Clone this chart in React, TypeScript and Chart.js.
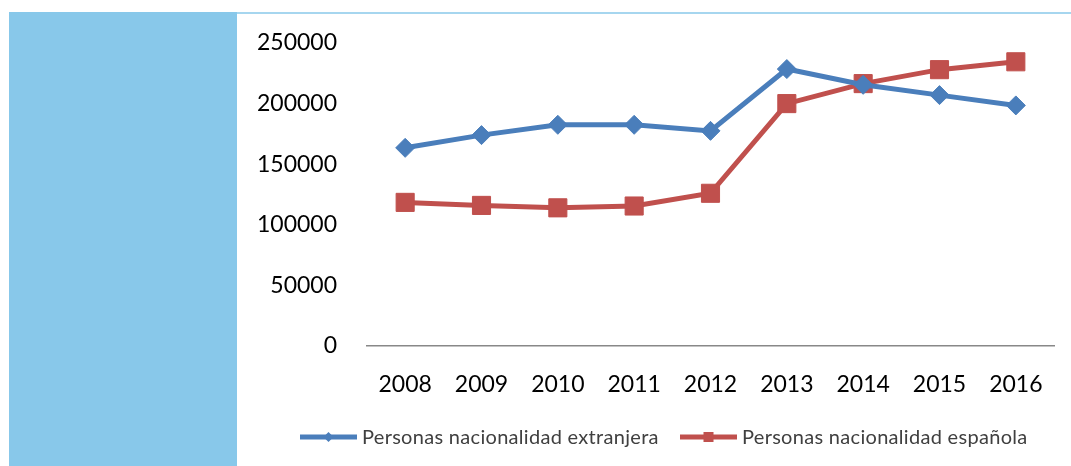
import React, { useEffect, useRef } from 'react';
import { Chart, registerables } from 'chart.js';
Chart.register(...registerables);

const years = ['2008', '2009', '2010', '2011', '2012', '2013', '2014', '2015', '2016'];
const extranjera = [163500, 174000, 182500, 182500, 177500, 228500, 215500, 207000, 198500];
const espanola = [118500, 116000, 114000, 115500, 126000, 200000, 216500, 228000, 234500];
const seriesNames = ['Personas nacionalidad extranjera', 'Personas nacionalidad española'];
const yMax = 250000;
const yStep = 50000;

const BLUE = '#4A7EBB';
const RED = '#C0504D';

const legendPlugin = {
  id: 'customLegend',
  afterDraw(chart: any) {
    const ctx = chart.ctx;
    const y = 424;
    const starts = [63, 443];
    chart.data.datasets.forEach((ds: any, i: number) => {
      const x = starts[i];
      ctx.save();
      ctx.strokeStyle = ds.borderColor;
      ctx.lineWidth = 5;
      ctx.beginPath();
      ctx.moveTo(x, y);
      ctx.lineTo(x + 57, y);
      ctx.stroke();
      ctx.fillStyle = ds.borderColor;
      const cx = x + 28.5;
      if (ds.pointStyle === 'rectRot') {
        ctx.beginPath();
        ctx.moveTo(cx, y - 5);
        ctx.lineTo(cx + 5, y);
        ctx.lineTo(cx, y + 5);
        ctx.lineTo(cx - 5, y);
        ctx.closePath();
        ctx.fill();
      } else {
        ctx.fillRect(cx - 5, y - 5, 10, 10);
      }
      ctx.fillStyle = '#404040';
      ctx.font = '20px Lato';
      try { (ctx as any).letterSpacing = '0.3px'; } catch (e) {}
      ctx.textBaseline = 'middle';
      ctx.textAlign = 'left';
      ctx.fillText(ds.label, x + 62, y + 1);
      ctx.restore();
    });
  },
};

function App() {
  const ref = useRef<HTMLCanvasElement>(null);
  useEffect(() => {
    if (!ref.current) return;
    const chart = new Chart(ref.current, {
      type: 'line',
      data: {
        labels: years,
        datasets: [
          {
            label: seriesNames[0],
            data: extranjera,
            borderColor: BLUE,
            backgroundColor: BLUE,
            borderWidth: 5,
            pointStyle: 'rectRot',
            pointRadius: 9.5,
            pointBorderWidth: 1,
            tension: 0,
          },
          {
            label: seriesNames[1],
            data: espanola,
            borderColor: RED,
            backgroundColor: RED,
            borderWidth: 5,
            pointStyle: 'rect',
            pointRadius: 12.8,
            pointBorderWidth: 1,
            tension: 0,
          },
        ],
      },
      options: {
        animation: false,
        responsive: false,
        layout: { padding: { left: 0, right: 17, top: 30, bottom: 60 } },
        plugins: { legend: { display: false }, tooltip: { enabled: false } },
        scales: {
          x: {
            offset: true,
            grid: { display: false },
            border: { display: true, color: '#888888', width: 1.5 },
            ticks: { color: '#000', font: { family: 'Lato', size: 23 }, padding: 17 },
            afterFit: (s: any) => { s.height = 60; s.paddingLeft = 0; s.paddingRight = 0; },
          },
          y: {
            min: 0,
            max: yMax,
            grid: { display: false },
            border: { display: false },
            ticks: {
              stepSize: yStep,
              color: '#000',
              font: { family: 'Lato', size: 23 },
              padding: 22,
              callback: (v: any) => String(v),
            },
            afterFit: (s: any) => { s.width = 130; s.paddingTop = 0; s.paddingBottom = 0; },
          },
        },
      },
      plugins: [legendPlugin],
    });
    return () => chart.destroy();
  }, []);

  return (
    <div style={{ position: 'absolute', left: 0, top: 0, width: 1071, height: 466, background: '#fff', overflow: 'hidden' }}>
      <div style={{ position: 'absolute', left: 9, top: 12, width: 228, height: 454, background: '#88C8EA' }} />
      <div style={{ position: 'absolute', left: 237, top: 12, width: 834, height: 2, background: '#A6D6EF' }} />
      <canvas ref={ref} width={834} height={453} style={{ position: 'absolute', left: 237, top: 13 }} />
    </div>
  );
}

export default App;
